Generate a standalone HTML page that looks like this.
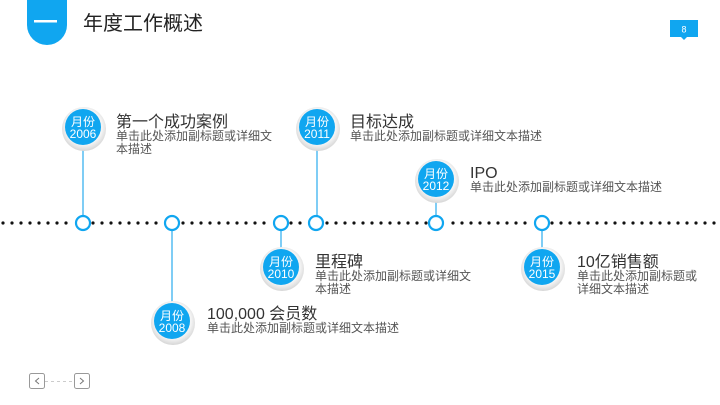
<!DOCTYPE html>
<html><head><meta charset="utf-8"><style>
body{margin:0;width:720px;height:405px;overflow:hidden;background:#fff;font-family:"Liberation Sans","Noto Sans CJK SC",sans-serif;position:relative}
.t{position:absolute;color:#333;font-size:16px;line-height:17px;white-space:nowrap}
.s{position:absolute;color:#555;font-size:12px;line-height:12.5px;white-space:nowrap}
</style></head><body>
<svg width="720" height="405" style="position:absolute;left:0;top:0">
<defs>
<radialGradient id="g" cx="50%" cy="45%" r="55%"><stop offset="75%" stop-color="#f4f4f4"/><stop offset="100%" stop-color="#d6d6d6"/></radialGradient>
</defs>
<path d="M27 0 H67 V25 A20 20 0 0 1 27 25 Z" fill="#10a6f0"/>
<rect x="34" y="20" width="23" height="2.5" fill="#fff"/>
<rect x="670" y="20" width="28" height="17" fill="#10a6f0"/>
<path d="M681 37 L684 40 L687 37 Z" fill="#10a6f0"/>
<text x="684" y="32.5" font-size="9" fill="#fff" text-anchor="middle" font-family="Liberation Sans">8</text>
<g id="dots"></g>
<g stroke="#7fcdf5" stroke-width="2">
<line x1="83" y1="145" x2="83" y2="216"/>
<line x1="317" y1="145" x2="317" y2="216"/>
<line x1="436" y1="198" x2="436" y2="216"/>
<line x1="172" y1="230" x2="172" y2="304"/>
<line x1="281" y1="230" x2="281" y2="250"/>
<line x1="542" y1="230" x2="542" y2="250"/>
</g>
<g fill="#fff" stroke="#10a6f0" stroke-width="2.2">
<circle cx="83" cy="223" r="7"/><circle cx="172" cy="223" r="7"/><circle cx="281" cy="223" r="7"/>
<circle cx="316" cy="223" r="7"/><circle cx="436" cy="223" r="7"/><circle cx="542" cy="223" r="7"/>
</g>
<g font-family="Liberation Sans, Noto Sans CJK SC, sans-serif" font-size="12" fill="#fff" text-anchor="middle">
<g transform="translate(83,127)"><circle cx="1" cy="2" r="22" fill="url(#g)"/><circle r="18" fill="#10a6f0"/><text y="-1">月份</text><text y="11">2006</text></g>
<g transform="translate(317,127)"><circle cx="1" cy="2" r="22" fill="url(#g)"/><circle r="18" fill="#10a6f0"/><text y="-1">月份</text><text y="11">2011</text></g>
<g transform="translate(436,179)"><circle cx="1" cy="2" r="22" fill="url(#g)"/><circle r="18" fill="#10a6f0"/><text y="-1">月份</text><text y="11">2012</text></g>
<g transform="translate(281,267)"><circle cx="1" cy="2" r="22" fill="url(#g)"/><circle r="18" fill="#10a6f0"/><text y="-1">月份</text><text y="11">2010</text></g>
<g transform="translate(542,267)"><circle cx="1" cy="2" r="22" fill="url(#g)"/><circle r="18" fill="#10a6f0"/><text y="-1">月份</text><text y="11">2015</text></g>
<g transform="translate(172,321)"><circle cx="1" cy="2" r="22" fill="url(#g)"/><circle r="18" fill="#10a6f0"/><text y="-1">月份</text><text y="11">2008</text></g>
</g>
<rect x="29.5" y="373.5" width="15" height="15" rx="2" fill="none" stroke="#999"/>
<rect x="74.5" y="373.5" width="15" height="15" rx="2" fill="none" stroke="#999"/>
<path d="M39 378 L35.5 381 L39 384" fill="none" stroke="#777"/>
<path d="M80 378 L83.5 381 L80 384" fill="none" stroke="#777"/>
<line x1="45" y1="381.5" x2="74" y2="381.5" stroke="#ccc" stroke-dasharray="3,3"/>
</svg>
<script>
var g=document.getElementById('dots'),s='';
for(var x=3;x<718;x+=9){var skip=[83,172,281,316,436,542].some(function(c){return Math.abs(c-x)<9});if(!skip)s+='<circle cx="'+x+'" cy="223" r="1.6" fill="#111"/>';}
g.innerHTML=s;
</script>
<div class="t" style="left:83px;top:13px;font-size:20px;line-height:22px;color:#222">年度工作概述</div>
<div class="t" style="left:116px;top:114px">第一个成功案例</div>
<div class="s" style="left:116px;top:130px">单击此处添加副标题或详细文<br>本描述</div>
<div class="t" style="left:350px;top:114px">目标达成</div>
<div class="s" style="left:350px;top:130px">单击此处添加副标题或详细文本描述</div>
<div class="t" style="left:470px;top:165px">IPO</div>
<div class="s" style="left:470px;top:181px">单击此处添加副标题或详细文本描述</div>
<div class="t" style="left:315px;top:254px">里程碑</div>
<div class="s" style="left:315px;top:270px">单击此处添加副标题或详细文<br>本描述</div>
<div class="t" style="left:577px;top:254px">10亿销售额</div>
<div class="s" style="left:577px;top:270px">单击此处添加副标题或<br>详细文本描述</div>
<div class="t" style="left:207px;top:306px">100,000 会员数</div>
<div class="s" style="left:207px;top:322px">单击此处添加副标题或详细文本描述</div>
</body></html>
